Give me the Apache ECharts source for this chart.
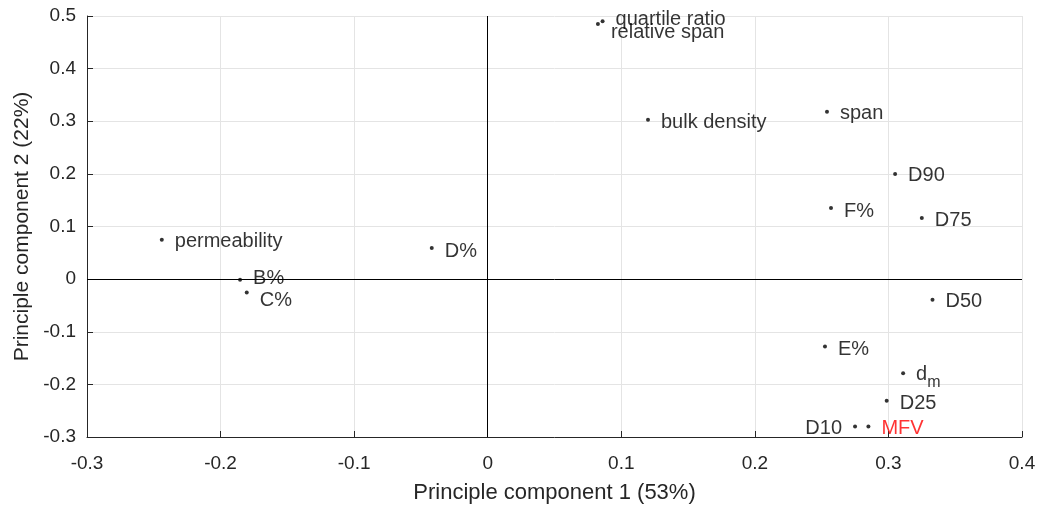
<!DOCTYPE html>
<html>
<head>
<meta charset="utf-8">
<script src="https://cdn.jsdelivr.net/npm/echarts@6/dist/echarts.min.js"></script>
<style>
html,body{margin:0;padding:0;background:#fff;}
#chart{width:1041px;height:509px;}
</style>
</head>
<body>
<div id="chart"></div>
<script>
// ---- data ----
const names = ['quartile ratio','relative span','bulk density','span','D90','F%','D75','D50','E%','dm','D25','MFV','D10','permeability','B%','C%','D%'];
const pc1 = [0.086, 0.0825, 0.120, 0.254, 0.305, 0.257, 0.325, 0.333, 0.2525, 0.311, 0.2987, 0.285, 0.275, -0.244, -0.1854, -0.1804, -0.0419];
const pc2 = [0.490, 0.485, 0.303, 0.318, 0.200, 0.135, 0.116, -0.039, -0.128, -0.179, -0.231, -0.280, -0.280, 0.075, -0.001, -0.0255, 0.059];
const xTicks = [-0.3, -0.2, -0.1, 0, 0.1, 0.2, 0.3, 0.4];
const yTicks = [-0.3, -0.2, -0.1, 0, 0.1, 0.2, 0.3, 0.4, 0.5];
const xTitle = 'Principle component 1 (53%)';
const yTitle = 'Principle component 2 (22%)';

// ---- label styling (not data) ----
const labelStyle = {
  'quartile ratio': {offset: [0, -2]},
  'relative span': {offset: [0, 9]},
  'bulk density': {offset: [0, 3]},
  'span': {offset: [0, 2]},
  'D90': {offset: [0, 2]},
  'D75': {offset: [0, 2]},
  'D50': {offset: [0, 2]},
  'F%': {offset: [0, 3]},
  'E%': {offset: [0, 3]},
  'D25': {offset: [0, 3]},
  'MFV': {offset: [0, 2], color: '#ff0000'},
  'D10': {position: 'left', offset: [0, 2]},
  'B%': {offset: [0, -1]},
  'C%': {offset: [0, 8]},
  'D%': {offset: [0, 3]},
  'permeability': {offset: [0, 2]},
  'dm': {offset: [0, 1], formatter: '{a|d}{s|m}'}
};

const pts = names.map((n, i) => {
  const s = labelStyle[n] || {};
  const lbl = {};
  if (s.offset) lbl.offset = s.offset;
  if (s.position) lbl.position = s.position;
  if (s.color) lbl.color = s.color;
  if (s.formatter) lbl.formatter = s.formatter;
  return {name: n, value: [pc1[i], pc2[i]], label: lbl};
});

const axisColor = '#262626';
const fmt = v => String(+(+v).toFixed(1));
const chart = echarts.init(document.getElementById('chart'));
chart.setOption({
  animation: false,
  grid: {left: 87, right: 19, top: 16, bottom: 72, containLabel: false},
  xAxis: {
    type: 'value', min: xTicks[0], max: xTicks[xTicks.length - 1], interval: 0.1,
    name: xTitle, nameLocation: 'middle', nameGap: 45,
    nameTextStyle: {fontFamily: 'Liberation Sans', fontSize: 22, color: axisColor},
    axisLine: {show: true, onZero: false, lineStyle: {color: axisColor, width: 1}},
    axisTick: {show: true, inside: true, length: 6, lineStyle: {color: axisColor}},
    axisLabel: {fontFamily: 'Liberation Sans', fontSize: 19, color: axisColor, margin: 17, formatter: fmt},
    splitLine: {show: true, lineStyle: {color: '#e4e4e4', width: 1}}
  },
  yAxis: {
    type: 'value', min: yTicks[0], max: yTicks[yTicks.length - 1], interval: 0.1,
    name: yTitle, nameLocation: 'middle', nameGap: 52, nameRotate: 90,
    nameTextStyle: {fontFamily: 'Liberation Sans', fontSize: 21, color: axisColor},
    axisLine: {show: true, onZero: false, lineStyle: {color: axisColor, width: 1}},
    axisTick: {show: true, inside: true, length: 6, lineStyle: {color: axisColor}},
    axisLabel: {fontFamily: 'Liberation Sans', fontSize: 19, color: axisColor, margin: 11, formatter: fmt},
    splitLine: {show: true, lineStyle: {color: '#e4e4e4', width: 1}}
  },
  series: [{
    type: 'scatter',
    symbol: 'circle',
    symbolSize: 4,
    itemStyle: {color: '#000'},
    label: {
      show: true, position: 'right', distance: 11,
      fontFamily: 'Liberation Sans', fontSize: 20, color: '#000',
      formatter: '{b}',
      rich: {
        a: {fontFamily: 'Liberation Sans', fontSize: 20, color: '#000'},
        s: {fontFamily: 'Liberation Sans', fontSize: 16, color: '#000', padding: [17, 0, 0, 0]}
      }
    },
    data: pts,
    markLine: {
      silent: true, symbol: 'none', animation: false,
      label: {show: false},
      lineStyle: {color: '#000', width: 1, type: 'solid'},
      data: [{xAxis: 0}, {yAxis: 0}]
    },
    z: 5
  }]
});
</script>
</body>
</html>
